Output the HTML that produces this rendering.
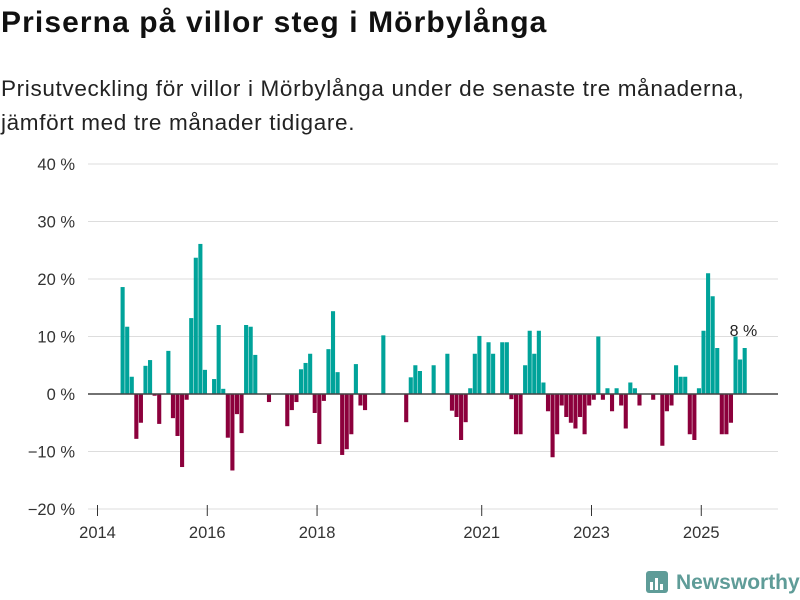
<!DOCTYPE html>
<html><head><meta charset="utf-8">
<style>
body{margin:0;background:#fff;width:800px;height:600px;overflow:hidden;font-family:"Liberation Sans",sans-serif;color:#111}
#title{position:absolute;left:1px;top:6px;font-size:30px;letter-spacing:1.1px;font-weight:bold;margin:0}
#sub{position:absolute;left:1px;top:72px;font-size:22.5px;letter-spacing:0.65px;line-height:34px;color:#222}
svg{position:absolute;left:0;top:0}
</style></head><body>
<h1 id="title">Priserna på villor steg i Mörbylånga</h1>
<div id="sub">Prisutveckling för villor i Mörbylånga under de senaste tre månaderna,<br>jämfört med tre månader tidigare.</div>
<svg width="800" height="600" id="chart">
<g id="grid"></g>
<g id="bars"></g>
<g id="axes"></g>
<g>
<rect x="646" y="571" width="22" height="22" rx="3" fill="#5f9c98"/>
<rect x="650" y="582" width="3" height="8" fill="#fff"/><rect x="655" y="578" width="3" height="12" fill="#fff"/><rect x="660" y="584" width="3" height="6" fill="#fff"/>
<text x="676" y="589" font-size="21" font-weight="bold" fill="#5f9c98" font-family="Liberation Sans, sans-serif">Newsworthy</text>
</g>
</svg>
<script>
const startYear = 2014;
const yTicks = [40,30,20,10,0,-10,-20];
const xTickYears = [2014,2016,2018,2021,2023,2025];
const values = [null,null,null,null,null,18.6,11.7,3,-7.8,-5,4.9,5.9,-0.3,-5.2,null,7.5,-4.2,-7.3,-12.7,-1,13.2,23.7,26.1,4.2,null,2.6,12,0.9,-7.6,-13.3,-3.5,-6.8,12,11.7,6.8,null,null,-1.4,null,null,null,-5.6,-2.8,-1.4,4.3,5.4,7,-3.3,-8.7,-1.2,7.8,14.4,3.8,-10.6,-9.6,-7,5.2,-2,-2.8,null,null,null,10.2,null,null,null,null,-4.9,2.9,5,4,null,null,5,null,null,7,-2.9,-4,-8,-4.9,1,7,10.1,null,9,7,null,9,9,-0.9,-7,-7,5,11,7,11,2,-3,-11,-7,-2,-4,-5,-6,-4,-7,-2,-1,10,-1,1,-3,1,-2,-6,2,1,-2,null,null,-1,null,-9,-3,-2,5,3,3,-7,-8,1,11,21,17,8,-7,-7,-5,10,6,8];
const lastLabel = "8 %";
const NS="http://www.w3.org/2000/svg";
function x(yr){return 97.5+(yr-startYear)*12*4.574;}
function y(v){return 394-v*5.75;}
function mk(t,a,p){const e=document.createElementNS(NS,t);for(const k in a)e.setAttribute(k,a[k]);p.appendChild(e);return e;}
const grid=document.getElementById('grid'),bars=document.getElementById('bars'),axes=document.getElementById('axes');
yTicks.forEach(v=>{
  if(v!==0){const l=mk('line',{x1:88,x2:778,y1:y(v),y2:y(v),stroke:'#dddddd','stroke-width':1},grid);
  
  }
  const t=mk('text',{x:75,y:y(v)+6,'text-anchor':'end','font-size':16.5,fill:'#333'},axes);
  t.textContent=(v<0?'\u2212'+(-v):v)+' %';
  
  
});
values.forEach((v,i)=>{
  if(v===null)return;
  const xx=x(startYear+i/12);
  const r=mk('rect',{x:xx+0.2,width:4.1,y:Math.min(y(v),y(0)),height:Math.abs(y(v)-y(0)),fill:v>=0?'#00a39a':'#8c003c'},bars);
  
  
});
const z=mk('line',{x1:88,x2:778,y1:y(0),y2:y(0),stroke:'#444','stroke-width':1.5},axes);


xTickYears.forEach(yr=>{
  const tk=mk('line',{x1:x(yr),x2:x(yr),y1:505,y2:516,stroke:'#333','stroke-width':1},axes);
  
  
  const t=mk('text',{x:x(yr),y:538,'text-anchor':'middle','font-size':16.5,fill:'#333'},axes);
  t.textContent=yr;
  
  
});
const li=values.length-1;
const lt=mk('text',{x:x(startYear+li/12)+1,y:y(values[li])-12,'text-anchor':'middle','font-size':16,fill:'#222'},axes);
lt.textContent=lastLabel;


</script>
</body></html>
